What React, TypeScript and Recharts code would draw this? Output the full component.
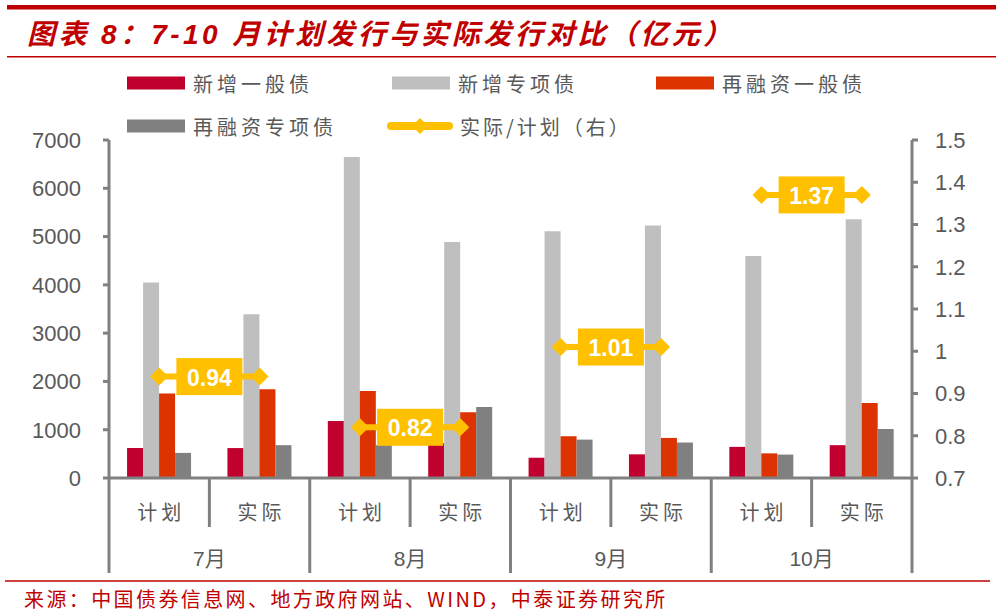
import { ComposedChart, Bar, Line, XAxis, YAxis, LabelList } from "recharts"

const CATEGORIES = ["计划", "实际", "计划", "实际", "计划", "实际", "计划", "实际"]
const MONTHS = ["7月", "8月", "9月", "10月"]
const NEW_GENERAL = [620, 620, 1180, 720, 420, 490, 645, 680]
const NEW_SPECIAL = [4050, 3390, 6650, 4890, 5110, 5230, 4600, 5360]
const REFI_GENERAL = [1750, 1840, 1800, 1360, 865, 830, 510, 1555]
const REFI_SPECIAL = [520, 680, 680, 1470, 795, 735, 485, 1015]
const RATIO = [0.94, 0.82, 1.01, 1.37]
const LEFT_TICKS = [0, 1000, 2000, 3000, 4000, 5000, 6000, 7000]
const RIGHT_TICKS = [0.7, 0.8, 0.9, 1.0, 1.1, 1.2, 1.3, 1.4, 1.5]

const W = 999
const H = 615
const PLOT_LEFT = 109
const PLOT_RIGHT = 912
const PLOT_TOP = 140
const PLOT_BOTTOM = 478
const BAND = (PLOT_RIGHT - PLOT_LEFT) / CATEGORIES.length

const RED = "#C00000"
const AXIS = "#808080"
const TXT = "#595959"
const YELLOW = "#FFC000"
const CJK = "'Noto Sans CJK SC', sans-serif"
const LATIN = "'Liberation Sans', Arial, 'Noto Sans CJK SC', sans-serif"

const SERIES = [
  { key: "ng", name: "新增一般债", color: "#C0002F", values: NEW_GENERAL },
  { key: "ns", name: "新增专项债", color: "#BFBFBF", values: NEW_SPECIAL },
  { key: "rg", name: "再融资一般债", color: "#DC3300", values: REFI_GENERAL },
  { key: "rs", name: "再融资专项债", color: "#808080", values: REFI_SPECIAL },
]

const data = CATEGORIES.map((c, i) => {
  const row: any = { cat: MONTHS[Math.floor(i / 2)] + c }
  SERIES.forEach((s) => (row[s.key] = s.values[i]))
  RATIO.forEach((r, m) => (row["r" + m] = Math.floor(i / 2) === m ? r : null))
  return row
})

const XTick = ({ x, payload, index }: any) => {
  const i = payload?.index ?? index
  const half = BAND / 2
  const monthStart = i % 2 === 0
  return (
    <g>
      <line x1={x - half} x2={x - half} y1={PLOT_BOTTOM} y2={monthStart ? 573 : 527} stroke={AXIS} strokeWidth={3} />
      {i === CATEGORIES.length - 1 && (
        <line x1={x + half} x2={x + half} y1={PLOT_BOTTOM} y2={573} stroke={AXIS} strokeWidth={3} />
      )}
      <text x={x + 2} y={511} textAnchor="middle" dominantBaseline="central" fontSize={20} letterSpacing={4} fill={TXT} fontFamily={CJK}>
        {CATEGORIES[i]}
      </text>
      {monthStart && (
        <text x={x + half} y={558} textAnchor="middle" dominantBaseline="central" fontSize={21} fill={TXT} fontFamily={LATIN}>
          {MONTHS[i / 2]}
        </text>
      )}
    </g>
  )
}

const Diamond = ({ cx, cy, value }: any) => {
  if (value == null || cy == null) return <g />
  return <polygon points={`${cx - 9},${cy} ${cx},${cy - 9} ${cx + 9},${cy} ${cx},${cy + 9}`} fill={YELLOW} />
}

const RatioLabel = ({ x, y, value, index }: any) => {
  if (value == null || index % 2 !== 0) return null
  const cx = x + BAND / 2
  return (
    <g>
      <rect x={cx - 33} y={y - 18.5} width={66} height={37} fill={YELLOW} />
      <text x={cx} y={y + 1} textAnchor="middle" dominantBaseline="central" fontSize={23} fontWeight="bold" fill="#fff" fontFamily={LATIN}>
        {value.toFixed(2)}
      </text>
    </g>
  )
}

const LegendItems = () => {
  const rows = [
    { s: SERIES[0], x: 127, y: 83 },
    { s: SERIES[1], x: 392, y: 83 },
    { s: SERIES[2], x: 656, y: 83 },
    { s: SERIES[3], x: 127, y: 126 },
  ]
  return (
    <g>
      {rows.map((r) => (
        <g key={r.s.key}>
          <rect x={r.x} y={r.y - 6.5} width={58} height={13} fill={r.s.color} />
          <text x={r.x + 66} y={r.y} dominantBaseline="central" fontSize={20} letterSpacing={4} fill={TXT} fontFamily={CJK}>
            {r.s.name}
          </text>
        </g>
      ))}
      <line x1={391} x2={449} y1={126} y2={126} stroke={YELLOW} strokeWidth={8} strokeLinecap="round" />
      <polygon points="412,126 420,118 428,126 420,134" fill={YELLOW} />
      <text x={460} y={126} dominantBaseline="central" fontSize={20} letterSpacing={3} fill={TXT} fontFamily={CJK}>
        实际/计划（右）
      </text>
    </g>
  )
}

export default function App() {
  return (
    <div style={{ position: "fixed", left: 0, top: 0, width: W, height: H, background: "#fff" }}>
      <div style={{ position: "absolute", left: 0, top: 0 }}>
        <ComposedChart
          width={W}
          height={H}
          data={data}
          margin={{ top: PLOT_TOP, right: 0, bottom: H - PLOT_BOTTOM - 100, left: 0 }}
          barCategoryGap="18%"
          barGap={0}
        >
          <XAxis dataKey="cat" height={100} tickLine={false} axisLine={{ stroke: AXIS, strokeWidth: 3 }} tick={<XTick />} interval={0} />
          <YAxis
            yAxisId="left"
            width={PLOT_LEFT}
            domain={[0, 7000]}
            ticks={LEFT_TICKS}
            interval={0}
            axisLine={{ stroke: AXIS, strokeWidth: 3 }}
            tickLine={{ stroke: AXIS, strokeWidth: 3 }}
            tickSize={6}
            tickMargin={22}
            tick={{ fontSize: 22, fill: TXT, fontFamily: LATIN }}
          />
          <YAxis
            yAxisId="right"
            orientation="right"
            width={W - PLOT_RIGHT}
            domain={[0.7, 1.5]}
            ticks={RIGHT_TICKS}
            interval={0}
            axisLine={{ stroke: AXIS, strokeWidth: 3 }}
            tickLine={{ stroke: AXIS, strokeWidth: 3 }}
            tickSize={6}
            tickMargin={17}
            tickFormatter={(v: number) => String(+v.toFixed(1))}
            tick={{ fontSize: 22, fill: TXT, fontFamily: LATIN, textAnchor: "start" }}
          />
          {SERIES.map((s) => (
            <Bar key={s.key} yAxisId="left" dataKey={s.key} name={s.name} fill={s.color} isAnimationActive={false} />
          ))}
          {RATIO.map((_, m) => (
            <Line
              key={"r" + m}
              yAxisId="right"
              dataKey={"r" + m}
              stroke={YELLOW}
              strokeWidth={6}
              dot={<Diamond />}
              activeDot={false}
              connectNulls={false}
              isAnimationActive={false}
            >
              <LabelList dataKey={"r" + m} content={<RatioLabel />} />
            </Line>
          ))}
        </ComposedChart>
      </div>
      <svg width={W} height={H} style={{ position: "absolute", left: 0, top: 0, pointerEvents: "none" }}>
        <rect x={7} y={5} width={989} height={4.5} fill={RED} />
        <text x={27} y={34} dominantBaseline="central" fontSize={28} fontWeight="bold" fontStyle="italic" letterSpacing={3.4} fill={RED} fontFamily={LATIN}>
          图表 8：7-10 月计划发行与实际发行对比（亿元）
        </text>
        <rect x={7} y={56} width={989} height={1.5} fill={RED} />
        <LegendItems />
        <line x1={5} x2={990} y1={581} y2={581} stroke={RED} strokeWidth={1.5} />
        <text x={24} y={598} dominantBaseline="central" fontSize={20} letterSpacing={2.4} fill={RED} fontFamily={CJK}>
          来源：中国债券信息网、地方政府网站、WIND，中泰证券研究所
        </text>
      </svg>
    </div>
  )
}
